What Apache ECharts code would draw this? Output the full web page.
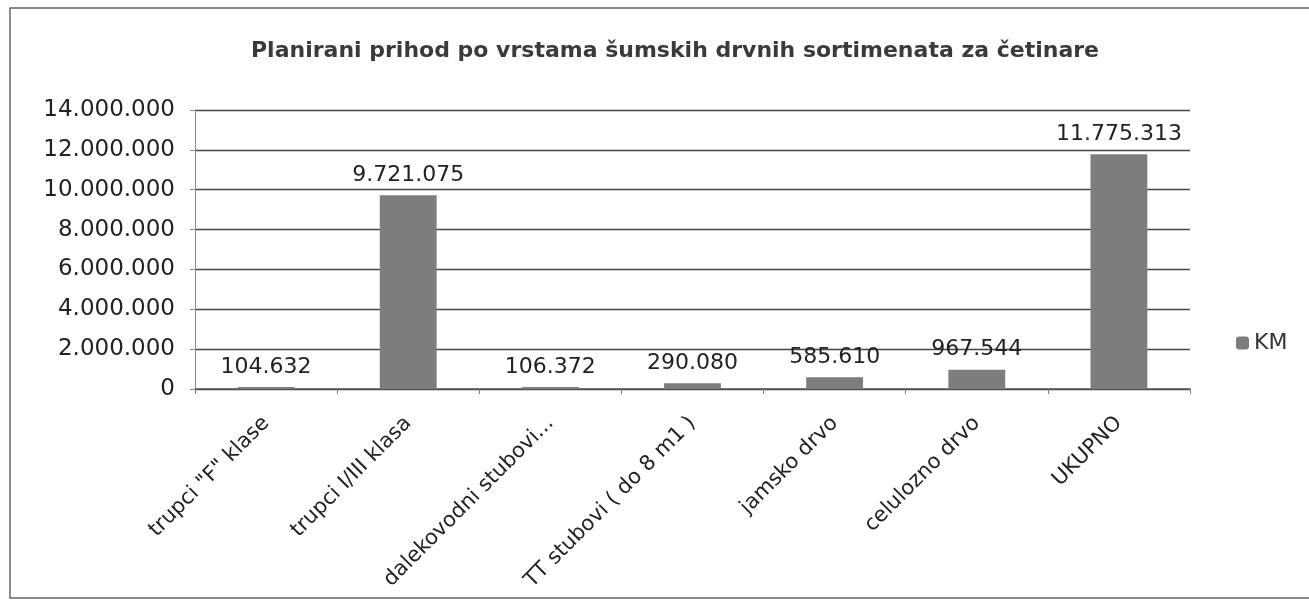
<!DOCTYPE html>
<html>
<head>
<meta charset="utf-8">
<script src="https://cdn.jsdelivr.net/npm/echarts@6/dist/echarts.min.js"></script>
<style>
  html, body { margin: 0; padding: 0; background: #fff; }
  #main { width: 1309px; height: 607px; }
</style>
</head>
<body>
<div id="main"></div>
<script>
const categories = ['trupci "F" klase', 'trupci I/III klasa', 'dalekovodni stubovi...', 'TT stubovi ( do 8 m1 )', 'jamsko drvo', 'celulozno drvo', 'UKUPNO'];
const kmValues = [104632, 9721075, 106372, 290080, 585610, 967544, 11775313];
const seriesName = 'KM';
const chartTitle = 'Planirani prihod po vrstama šumskih drvnih sortimenata za četinare';

// thousands separated by dots, like the source sheet
function fmt(v) {
    return String(Math.round(v)).replace(/\B(?=(\d{3})+(?!\d))/g, '.');
}

const myChart = echarts.init(document.getElementById('main'));

const option = {
    backgroundColor: '#fff',
    textStyle: { fontFamily: 'DejaVu Sans, sans-serif' },
    title: {
        text: chartTitle,
        left: 670,
        textAlign: 'center',
        top: 35,
        textStyle: { fontSize: 22, fontWeight: 'bold', color: '#3a3a3a', fontFamily: 'DejaVu Sans' }
    },
    legend: {
        data: [seriesName],
        left: 1231,
        top: 327,
        itemWidth: 13,
        itemHeight: 13,
        itemGap: 5,
        textStyle: { fontSize: 22, color: '#333' }
    },
    grid: { left: 195, right: 119, top: 110, bottom: 218 },
    xAxis: {
        type: 'category',
        data: categories,
        axisLine: { lineStyle: { color: '#555', width: 1.5 } },
        axisTick: { show: true, length: 5, lineStyle: { color: '#777' } },
        axisLabel: { rotate: 45, fontSize: 21, color: '#222', margin: 31, interval: 0 }
    },
    yAxis: {
        type: 'value',
        min: 0,
        max: 14000000,
        interval: 2000000,
        axisLine: { show: true, lineStyle: { color: '#888' } },
        axisTick: { show: true, length: 5, lineStyle: { color: '#888' } },
        splitLine: { lineStyle: { color: '#444', width: 1.3 } },
        axisLabel: { fontSize: 23, color: '#222', margin: 20, formatter: fmt }
    },
    series: [{
        name: seriesName,
        type: 'bar',
        data: kmValues,
        barWidth: '40%',
        itemStyle: { color: '#7d7d7d' },
        label: {
            show: true,
            position: 'top',
            distance: 9,
            fontSize: 22,
            color: '#222',
            formatter: p => fmt(p.value)
        }
    }],
    graphic: [{
        type: 'rect',
        shape: { x: 10, y: 8, width: 1309, height: 590 },
        style: { fill: 'none', stroke: '#666', lineWidth: 1.5 },
        silent: true
    }]
};

myChart.setOption(option);
</script>
</body>
</html>
